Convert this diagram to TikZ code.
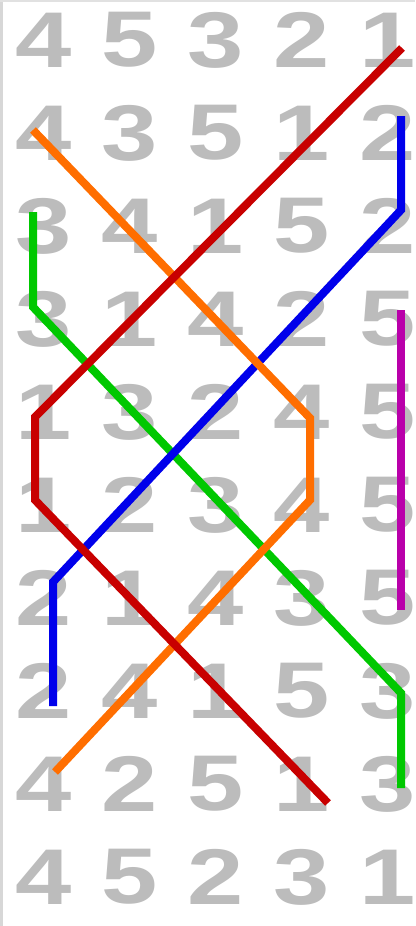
\documentclass[tikz,border=0pt]{standalone}
\usepackage{fontspec}
\setmainfont{Liberation Sans}
\begin{document}
\begin{tikzpicture}[x=1pt,y=-1pt,
  digit/.style={inner sep=0pt, text=digitgrey, font=\fontsize{79}{79}\selectfont\bfseries},
  trace/.style={line width=8pt, line cap=butt, line join=miter}]
\definecolor{digitgrey}{RGB}{188,188,188}
\definecolor{cred}{RGB}{200,0,0}
\definecolor{corange}{RGB}{255,110,0}
\definecolor{cgreen}{RGB}{0,200,0}
\definecolor{cblue}{RGB}{0,0,235}
\definecolor{cmag}{RGB}{185,0,170}
\useasboundingbox (0,0) rectangle (415,926);
\fill[white] (0,0) rectangle (415,926);
\draw[line width=3pt, draw={rgb,255:red,215;green,215;blue,215}] (1.5,0) -- (1.5,926);
\draw[line width=2pt, draw={rgb,255:red,225;green,225;blue,225}] (0,1) -- (415,1);
% digits
\foreach \r/\row in {1/{4,5,3,2,1},2/{4,3,5,1,2},3/{3,4,1,5,2},4/{3,1,4,2,5},5/{1,3,2,4,5},6/{1,2,3,4,5},7/{2,1,4,3,5},8/{2,4,1,5,3},9/{4,2,5,1,3},10/{4,5,2,3,1}}{
  \foreach \d [count=\c] in \row {
    \node[digit] (d-\r-\c) at ({44+86*(\c-1)},{40+93*(\r-1)}) {\scalebox{1.28}[1]{\d}};
  }
}
% trace points
\coordinate (r1) at (402,48);
\coordinate (r2) at (35,417);
\coordinate (r3) at (35,500);
\coordinate (r4) at (328,803);
\coordinate (o1) at (33,130);
\coordinate (o2) at (310,418);
\coordinate (o3) at (310,500);
\coordinate (o4) at (55,772);
\coordinate (g1) at (33,212);
\coordinate (g2) at (33,307);
\coordinate (g3) at (401,693);
\coordinate (g4) at (401,788);
\coordinate (b1) at (401,116);
\coordinate (b2) at (401,210);
\coordinate (b3) at (53,582);
\coordinate (b4) at (53,706);
\coordinate (m1) at (401,310);
\coordinate (m2) at (401,610);
\draw[trace, cmag] (m1) -- (m2);
\draw[trace, cgreen] (g1) -- (g2) -- (g3) -- (g4);
\draw[trace, cblue] (b1) -- (b2) -- (b3) -- (b4);
\draw[trace, corange] (o1) -- (o2) -- (o3) -- (o4);
\draw[trace, cred] (r1) -- (r2) -- (r3) -- (r4);
\end{tikzpicture}
\end{document}
